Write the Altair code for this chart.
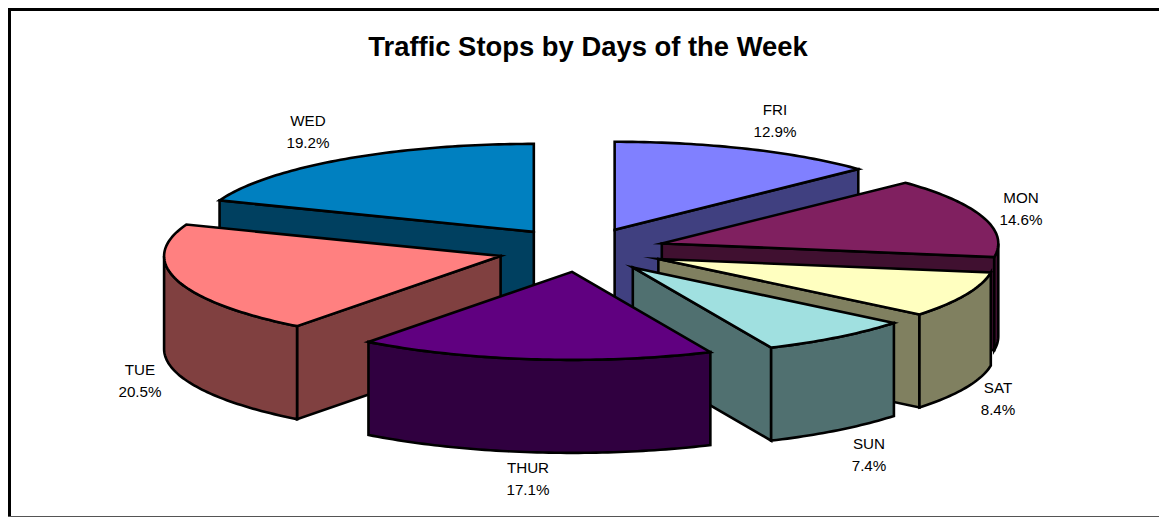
import math
import altair as alt

# ---- data ----
days = ["FRI", "MON", "SAT", "SUN", "THUR", "TUE", "WED"]
shares = [12.9, 14.6, 8.4, 7.4, 17.1, 20.5, 19.2]
top_colors = ["#8080FF", "#802060", "#FFFFC0", "#A0E0E0", "#600080", "#FF8080", "#0080C0"]
side_colors = ["#404080", "#401030", "#808060", "#507070", "#300040", "#804040", "#004060"]
paint_order = ["WED", "FRI", "MON", "SAT", "TUE", "SUN", "THUR"]
label_lon = [775, 1021, 998, 869, 528, 140, 308]
label_lat = [110, 198, 388, 444, 468, 370, 121]
title_text = "Traffic Stops by Days of the Week"

# ---- pie geometry ----
CX, CY, RX, RY, DEPTH, EXPLODE = 581.5, 250.0, 336.5, 88.0, 93.0, 0.25
total = sum(shares)


def pt(ox, oy, deg, dz=0.0):
    r = math.radians(deg)
    return [ox + RX * math.sin(r), oy - RY * math.cos(r) + dz]


def feature(ring, fill, sw=2.6, stroke="black"):
    return {
        "type": "Feature",
        "properties": {"fill": fill, "sw": sw, "stroke": stroke},
        "geometry": {"type": "Polygon", "coordinates": [ring + [ring[0]]]},
    }


def slice_features(start, end, top, side):
    mid = math.radians((start + end) / 2)
    ox = CX + EXPLODE * RX * math.sin(mid)
    oy = CY - EXPLODE * RY * math.cos(mid)
    apex, apex_low = [ox, oy], [ox, oy + DEPTH]
    out = []
    # radial faces turned toward the viewer
    if 180 < start < 360:
        out.append(feature([apex, pt(ox, oy, start), pt(ox, oy, start, DEPTH), apex_low], side))
    if 0 < end < 180:
        out.append(feature([apex, pt(ox, oy, end), pt(ox, oy, end, DEPTH), apex_low], side))
    # outer wall
    a0, a1 = max(start, 90), min(end, 270)
    if a1 > a0:
        n = max(2, int(a1 - a0))
        angles = [a0 + (a1 - a0) * i / n for i in range(n + 1)]
        ring = [pt(ox, oy, t) for t in angles] + [pt(ox, oy, t, DEPTH) for t in reversed(angles)]
        out.append(feature(ring, side))
    # top
    n = max(2, int(end - start))
    ring = [apex] + [pt(ox, oy, start + (end - start) * i / n) for i in range(n + 1)]
    out.append(feature(ring, top))
    return out


bounds = {}
acc = 0.0
for i, d in enumerate(days):
    bounds[d] = (acc / total * 360, (acc + shares[i]) / total * 360, i)
    acc += shares[i]

features = [
    feature([[9.5, 540], [9.5, 9.5], [1190, 9.5], [1190, 540]], "#FFFFFF", 3, "black"),
    feature([[0, 516.5], [1190, 516.5], [1190, 530], [0, 530]], "#FFFFFF", 1, "#555555"),
]
for d in paint_order:
    s, e, i = bounds[d]
    features += slice_features(s, e, top_colors[i], side_colors[i])

proj = alt.Projection(type="identity", scale=1, translate=[-8, -8])

pie = alt.Chart(alt.Data(values=features)).mark_geoshape(
    strokeJoin="miter", strokeMiterLimit=20
).encode(
    fill=alt.Fill("properties.fill:N", scale=None),
    stroke=alt.Stroke("properties.stroke:N", scale=None),
    strokeWidth=alt.StrokeWidth("properties.sw:Q", scale=None),
)

label_rows = [
    {"lon": label_lon[i], "lat": label_lat[i], "txt": [days[i], f"{shares[i]:.1f}%"]}
    for i in range(len(days))
]
labels = alt.Chart(alt.Data(values=label_rows)).mark_text(
    font="Liberation Sans", fontSize=15.2, color="black", lineHeight=22, align="center", baseline="middle"
).encode(longitude="lon:Q", latitude="lat:Q", text="txt:N")

title = alt.Chart(alt.Data(values=[{"lon": 588, "lat": 56, "txt": title_text}])).mark_text(
    font="Liberation Sans", fontSize=27.4, fontWeight="bold", color="black", align="center", baseline="alphabetic"
).encode(longitude="lon:Q", latitude="lat:Q", text="txt:N")

chart = alt.layer(pie, labels, title).properties(
    width=1151,
    height=509,
    padding=0,
    autosize=alt.AutoSizeParams(type="none"),
    projection=proj,
).configure_view(stroke=None)

chart.save("out.html", embed_options={"renderer": "svg", "actions": False})
